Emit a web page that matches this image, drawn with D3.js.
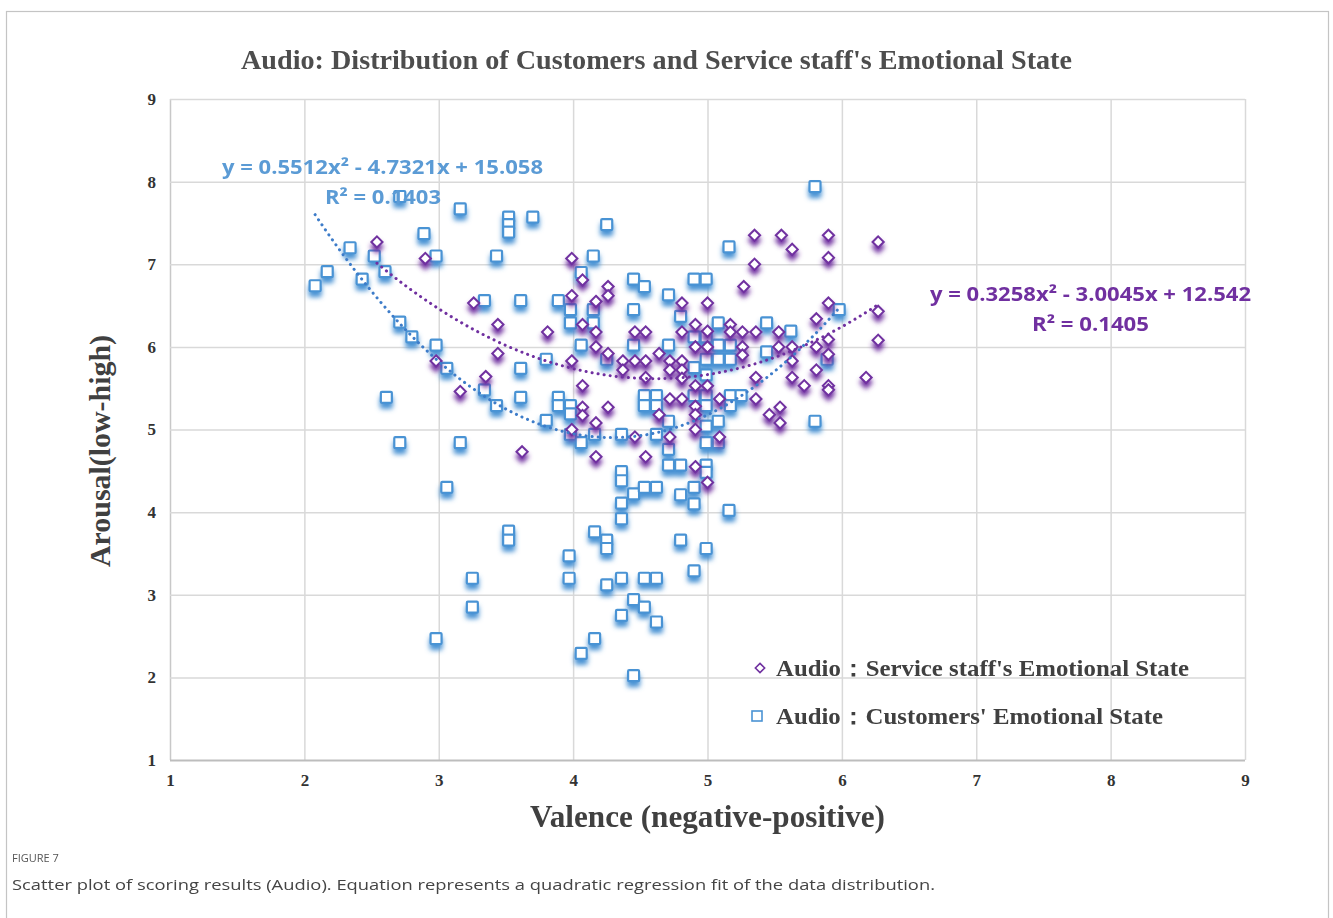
<!DOCTYPE html>
<html>
<head>
<meta charset="utf-8">
<script src="https://cdn.jsdelivr.net/npm/d3@7"></script>
<style>
  body { margin: 0; background: #fff; }
</style>
</head>
<body>
<div id="chart"></div>
<script>
// Customers (blue squares): [valence, arousal]
const customers = [
  [2.08,6.74],[2.17,6.91],[2.34,7.2],[2.52,7.1],[2.43,6.82],[2.6,6.91],[2.71,6.3],[2.8,6.12],[2.98,6.02],[3.06,5.74],
  [2.61,5.39],[2.71,4.84],[3.16,4.84],[2.89,7.37],[2.98,7.1],[3.16,7.67],[3.43,7.1],[3.52,7.57],[3.52,7.48],[3.52,7.39],
  [3.7,7.57],[3.34,6.56],[3.61,6.56],[3.89,6.56],[3.98,6.45],[3.98,6.29],[4.06,6.9],[3.8,5.85],[3.61,5.74],[3.34,5.48],
  [3.43,5.29],[3.61,5.39],[3.89,5.39],[3.89,5.29],[3.98,5.29],[3.98,5.19],[3.8,5.11],[3.98,4.94],[2.71,7.82],
  [3.06,4.3],[3.52,3.77],[3.52,3.66],[3.25,3.2],[3.25,2.85],[2.98,2.47],[3.97,3.47],[3.97,3.2],[4.16,3.76],[4.25,3.66],
  [4.25,3.56],[4.25,3.12],[4.16,2.47],[4.06,2.29],[4.45,2.02],[4.36,3.2],[4.53,3.2],[4.62,3.2],[4.45,2.94],[4.53,2.85],
  [4.36,2.75],[4.62,2.67],[4.36,4.49],[4.36,4.38],[4.36,4.11],[4.36,3.92],[4.45,4.22],[4.53,4.3],[4.62,4.3],[4.8,3.66],
  [4.99,3.56],[4.9,3.29],[5.16,4.02],[4.8,4.21],[4.9,4.3],[4.9,4.1],[4.71,4.76],[4.71,4.57],[4.8,4.57],[4.99,4.57],
  [4.99,4.48],[4.99,5.04],[4.99,4.84],[5.08,4.84],[5.08,5.1],[4.06,4.84],[4.16,4.94],[4.36,4.94],[4.62,4.94],[4.71,5.1],
  [5.8,7.94],[4.25,7.48],[4.15,7.1],[5.16,7.21],[4.45,6.82],[4.53,6.73],[4.9,6.82],[4.99,6.82],[4.71,6.63],[4.8,6.37],
  [4.45,6.45],[4.15,6.45],[4.15,6.29],[4.06,6.02],[4.25,5.85],[4.45,6.02],[4.71,6.02],[4.9,6.12],[4.99,6.12],[5.08,6.29],
  [5.08,6.02],[5.17,6.02],[4.99,5.85],[5.08,5.85],[5.17,5.85],[4.9,5.75],[4.99,5.66],[5.44,6.29],[5.62,6.19],[5.44,5.94],
  [5.98,6.45],[5.89,5.85],[5.8,5.1],[4.53,5.41],[4.62,5.41],[4.53,5.29],[4.62,5.29],[4.9,5.41],[4.99,5.41],[4.99,5.29],
  [5.17,5.41],[5.25,5.41],[5.17,5.29]
];

// Service staff (purple diamonds): [valence, arousal]
const staff = [
  [2.54,7.27],[2.9,7.07],[3.99,7.07],[3.26,6.53],[3.44,6.27],[3.81,6.18],[3.99,6.62],[3.44,5.92],[2.98,5.83],[3.35,5.64],
  [3.16,5.46],[3.99,5.83],[3.62,4.73],
  [4.07,6.81],[4.26,6.73],[4.26,6.62],[4.17,6.55],[4.07,6.27],[4.17,6.18],[4.17,6.0],[4.26,5.92],[4.46,6.18],[4.54,6.18],
  [4.81,6.53],[5.0,6.53],[5.27,6.73],[5.35,7.35],[5.55,7.35],[5.63,7.18],[5.9,7.35],[5.9,7.08],[6.27,7.27],[5.35,7.0],
  [5.9,6.53],[6.27,6.43],[6.27,6.08],[6.18,5.63],[5.81,6.34],[5.9,6.09],[5.81,6.0],
  [5.17,6.27],[5.17,6.18],[5.26,6.18],[5.36,6.18],[5.53,6.18],[5.26,6.0],[5.26,5.9],[5.53,6.0],[5.63,6.0],[5.9,5.91],
  [5.63,5.83],[5.36,5.63],[5.63,5.63],[5.81,5.72],[5.72,5.53],[5.9,5.53],[5.9,5.48],[5.36,5.37],[5.54,5.27],[5.46,5.18],
  [5.54,5.08],
  [4.64,5.92],[4.46,5.83],[4.54,5.83],[4.37,5.83],[4.37,5.72],[4.72,5.83],[4.81,5.83],[4.72,5.72],[4.81,5.72],[4.54,5.63],
  [4.81,5.62],[4.91,6.0],[4.91,6.27],[5.0,6.0],[4.07,5.53],[4.91,5.53],[5.0,5.53],[4.07,5.27],[4.07,5.17],[4.26,5.27],
  [4.17,5.08],[4.72,5.37],[4.81,5.37],[5.09,5.37],[4.64,5.18],[4.91,5.28],[4.91,5.18],[4.91,5.0],[4.72,4.91],[4.46,4.91],
  [5.09,4.91],[3.99,5.0],[4.17,4.67],[4.54,4.67],[4.81,6.18],[5.0,6.19],[4.91,4.55],[5.0,4.36]
];

// quadratic fits shown on the chart: [a, b, c], x-range
const fitCustomers = [0.5512, -4.7321, 15.058];
const fitCustomersRange = [2.08, 5.98];
const fitStaff = [0.3258, -3.0045, 12.542];
const fitStaffRange = [2.54, 6.27];

const ticks = [1, 2, 3, 4, 5, 6, 7, 8, 9];

const W = 1333, H = 918;
const svg = d3.select("#chart").append("svg")
  .attr("width", W)
  .attr("height", H)
  .style("font-family", "'Liberation Serif', serif");

const blue = "#4a93d4";
const purple = "#7030a0";

// soft coloured glow under each marker
const defs = svg.append("defs");
function shadow(id, color) {
  const f = defs.append("filter").attr("id", id)
    .attr("filterUnits", "userSpaceOnUse")
    .attr("x", 0).attr("y", 0).attr("width", W).attr("height", H);
  f.append("feGaussianBlur").attr("in", "SourceAlpha").attr("stdDeviation", 2.6).attr("result", "blur");
  f.append("feOffset").attr("in", "blur").attr("dx", 0).attr("dy", 5).attr("result", "off");
  f.append("feFlood").attr("flood-color", color).attr("flood-opacity", 1).attr("result", "col");
  f.append("feComposite").attr("in", "col").attr("in2", "off").attr("operator", "in").attr("result", "sh");
  const m = f.append("feMerge");
  m.append("feMergeNode").attr("in", "sh");
  m.append("feMergeNode").attr("in", "SourceGraphic");
}
shadow("shBlue", blue);
shadow("shPurple", purple);

// outer frame
svg.append("rect")
  .attr("x", 6.5).attr("y", 11.5)
  .attr("width", 1322).attr("height", 1000)
  .attr("fill", "none").attr("stroke", "#c4c4c4").attr("stroke-width", 1.2);

const x = d3.scaleLinear().domain([1, 9]).range([170, 1245]);
const y = d3.scaleLinear().domain([1, 9]).range([760, 99]);

// grid + axes
const gx = svg.append("g")
  .attr("transform", "translate(0,760)")
  .attr("font-size", 17)
  .call(d3.axisBottom(x).tickValues(ticks).tickSize(-661).tickPadding(14).tickFormat(d3.format("d")));
const gy = svg.append("g")
  .attr("transform", "translate(170,0)")
  .call(d3.axisLeft(y).tickValues(ticks).tickSize(-1075).tickPadding(14).tickFormat(d3.format("d")));

[gx, gy].forEach(g => {
  g.attr("font-size", 17).attr("font-family", "'Liberation Serif', serif");
  g.select(".domain").remove();
  g.selectAll(".tick line").attr("stroke", "#d9d9d9").attr("stroke-width", 1.5);
  g.selectAll(".tick text")
    .attr("fill", "#333")
    .attr("font-weight", "bold");
});
gx.selectAll(".tick").filter(d => d === 1).select("line").attr("stroke", "#c8c8c8");
gy.selectAll(".tick").filter(d => d === 1).select("line").attr("stroke", "#bdbdbd").attr("stroke-width", 2);

// trend lines
function fitLine(coef, range) {
  const xs = d3.range(range[0], range[1], 0.02).concat([range[1]]);
  return xs.map(v => [v, coef[0] * v * v + coef[1] * v + coef[2]]);
}
const line = d3.line().x(d => x(d[0])).y(d => y(d[1]));

// markers
const sq = 11;
svg.append("g").attr("filter", "url(#shBlue)").selectAll("rect")
  .data(customers)
  .join("rect")
  .attr("x", d => x(d[0]) - sq / 2)
  .attr("y", d => y(d[1]) - sq / 2)
  .attr("width", sq).attr("height", sq)
  .attr("rx", 1)
  .attr("fill", "#fff")
  .attr("stroke", blue)
  .attr("stroke-width", 2.2);

const diamond = d3.symbol().type(d3.symbolDiamond2).size(80);
svg.append("g").attr("filter", "url(#shPurple)").selectAll("path")
  .data(staff)
  .join("path")
  .attr("transform", d => `translate(${x(d[0])},${y(d[1])})`)
  .attr("d", diamond)
  .attr("fill", "#fff")
  .attr("stroke", purple)
  .attr("stroke-width", 2);

svg.append("path")
  .datum(fitLine(fitCustomers, fitCustomersRange))
  .attr("d", line)
  .attr("fill", "none")
  .attr("stroke", "#3d7cc9")
  .attr("stroke-width", 3)
  .attr("stroke-linecap", "round")
  .attr("stroke-dasharray", "0.1 6");

svg.append("path")
  .datum(fitLine(fitStaff, fitStaffRange))
  .attr("d", line)
  .attr("fill", "none")
  .attr("stroke", purple)
  .attr("stroke-width", 3)
  .attr("stroke-linecap", "round")
  .attr("stroke-dasharray", "0.1 6");

// equation labels
const eqFont = "'Open Sans', 'Noto Sans', sans-serif";
function label(txt, lx, ly, len, color) {
  svg.append("text")
    .attr("x", lx).attr("y", ly)
    .attr("textLength", len).attr("lengthAdjust", "spacingAndGlyphs")
    .attr("fill", color)
    .style("font-family", eqFont)
    .style("font-weight", "bold")
    .style("font-size", "20px")
    .text(txt);
}
label("y = 0.5512x² - 4.7321x + 15.058", 222, 174, 321, "#5b9bd5");
label("R² = 0.1403", 325, 204, 116, "#5b9bd5");
label("y = 0.3258x² - 3.0045x + 12.542", 930, 301, 321, purple);
label("R² = 0.1405", 1032, 331, 117, purple);

// title and axis titles
svg.append("text")
  .attr("x", 241).attr("y", 69)
  .attr("textLength", 831).attr("lengthAdjust", "spacingAndGlyphs")
  .attr("fill", "#4d4d4d")
  .style("font-weight", "bold").style("font-size", "28px")
  .text("Audio: Distribution of Customers and Service staff's Emotional State");

svg.append("text")
  .attr("x", 530).attr("y", 827)
  .attr("textLength", 355).attr("lengthAdjust", "spacingAndGlyphs")
  .attr("fill", "#404040")
  .style("font-weight", "bold").style("font-size", "32px")
  .text("Valence (negative-positive)");

svg.append("text")
  .attr("transform", "translate(110,567) rotate(-90)")
  .attr("textLength", 232).attr("lengthAdjust", "spacingAndGlyphs")
  .attr("fill", "#404040")
  .style("font-weight", "bold").style("font-size", "30px")
  .text("Arousal(low-high)");

// legend
const legend = [
  { label: "Audio：Service staff's Emotional State", len: 413, yy: 668, kind: "diamond" },
  { label: "Audio：Customers' Emotional State", len: 387, yy: 716, kind: "square" }
];
legend.forEach(d => {
  if (d.kind === "diamond") {
    svg.append("path")
      .attr("transform", `translate(760,${d.yy})`)
      .attr("d", d3.symbol().type(d3.symbolDiamond2).size(55))
      .attr("fill", "#fff").attr("stroke", purple).attr("stroke-width", 1.6);
  } else {
    svg.append("rect")
      .attr("x", 752).attr("y", d.yy - 5).attr("width", 10).attr("height", 10)
      .attr("fill", "#fff").attr("stroke", blue).attr("stroke-width", 1.6);
  }
  svg.append("text")
    .attr("x", 776).attr("y", d.yy + 8)
    .attr("textLength", d.len).attr("lengthAdjust", "spacingAndGlyphs")
    .attr("fill", "#404040")
    .style("font-weight", "bold").style("font-size", "23px")
    .text(d.label);
});

// caption
const capFont = "'Open Sans', 'Noto Sans', sans-serif";
svg.append("text")
  .attr("x", 12).attr("y", 862)
  .attr("fill", "#555")
  .style("font-family", capFont).style("font-size", "11px")
  .text("FIGURE 7");
svg.append("text")
  .attr("x", 12).attr("y", 890)
  .attr("textLength", 923).attr("lengthAdjust", "spacingAndGlyphs")
  .attr("fill", "#444")
  .style("font-family", capFont).style("font-size", "15px")
  .text("Scatter plot of scoring results (Audio). Equation represents a quadratic regression fit of the data distribution.");
</script>
</body>
</html>
